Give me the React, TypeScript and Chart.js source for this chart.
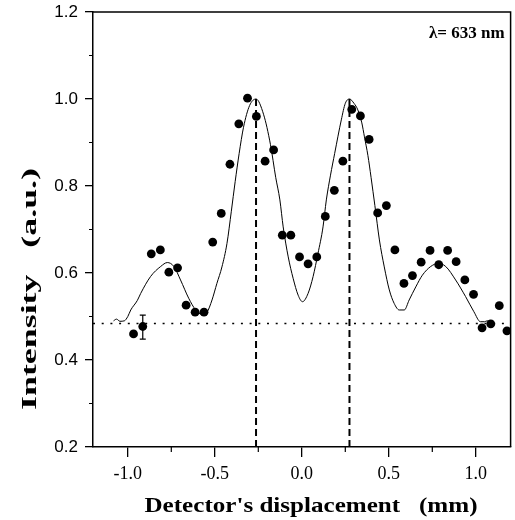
import React, { useEffect, useRef } from 'react';
import { Chart, registerables } from 'chart.js';
Chart.register(...registerables);

// ---- data ----
const measuredX = [
  -0.967, -0.914, -0.865, -0.813, -0.764, -0.714, -0.665, -0.613, -0.562, -0.512,
  -0.463, -0.413, -0.362, -0.312, -0.261, -0.211, -0.162, -0.112, -0.063, -0.013,
  0.036, 0.086, 0.135, 0.187, 0.236, 0.287, 0.337, 0.387, 0.436, 0.486,
  0.535, 0.587, 0.636, 0.686, 0.737, 0.787, 0.838, 0.887, 0.937, 0.987,
  1.036, 1.086, 1.135, 1.179,
];
const measuredY = [
  0.46, 0.477, 0.644, 0.653, 0.602, 0.612, 0.526, 0.51, 0.51, 0.671,
  0.737, 0.85, 0.943, 1.002, 0.96, 0.857, 0.883, 0.687, 0.687, 0.637,
  0.621, 0.637, 0.73, 0.79, 0.857, 0.976, 0.961, 0.907, 0.738, 0.755,
  0.653, 0.576, 0.594, 0.625, 0.652, 0.619, 0.652, 0.626, 0.584, 0.551,
  0.474, 0.483, 0.525, 0.467,
];

const fitX = [
  -1.082, -1.065, -1.045, -1.02, -1.0, -0.983, -0.945, -0.926, -0.869, -0.811,
  -0.773, -0.735, -0.697, -0.65, -0.61, -0.575, -0.545, -0.516, -0.488, -0.459,
  -0.43, -0.405, -0.383, -0.36, -0.335, -0.3, -0.263, -0.22, -0.18, -0.15,
  -0.126, -0.107, -0.078, -0.05, -0.021, 0.004, 0.036, 0.065, 0.093, 0.122,
  0.141, 0.165, 0.189, 0.227, 0.25, 0.274, 0.3, 0.322, 0.345, 0.36,
  0.38, 0.398, 0.42, 0.446, 0.474, 0.503, 0.531, 0.56, 0.589, 0.617,
  0.655, 0.693, 0.741, 0.785, 0.827, 0.884, 0.941, 0.989, 1.027, 1.05,
  1.065, 1.093,
];
const fitY = [
  0.49, 0.494, 0.489, 0.49, 0.5, 0.515, 0.537, 0.553, 0.592, 0.615,
  0.624, 0.615, 0.584, 0.542, 0.515, 0.505, 0.51, 0.538, 0.576, 0.614,
  0.668, 0.742, 0.81, 0.875, 0.935, 0.985, 1.0, 0.965, 0.895, 0.82,
  0.768, 0.706, 0.637, 0.588, 0.549, 0.534, 0.553, 0.592, 0.645, 0.706,
  0.768, 0.825, 0.875, 0.952, 0.99, 1.0, 0.99, 0.975, 0.945, 0.913,
  0.87, 0.82, 0.755, 0.676, 0.614, 0.561, 0.53, 0.515, 0.515, 0.538,
  0.568, 0.595, 0.615, 0.622, 0.615, 0.584, 0.546, 0.511, 0.488, 0.488,
  0.49, 0.488,
];

const baselineLevel = 0.484;
const peakPositions = [-0.263, 0.274];
const peakLevel = 1.0;
const errorBarX = -0.914;
const errorBarLow = 0.448;
const errorBarHigh = 0.503;

const xRange = [-1.2, 1.2];
const yRange = [0.2, 1.2];
const xTickValues = [-1.0, -0.5, 0.0, 0.5, 1.0];
const xMinorTicks = [-0.75, -0.25, 0.25, 0.75];
const yTickValues = [0.2, 0.4, 0.6, 0.8, 1.0, 1.2];
const yMinorTicks = [0.3, 0.5, 0.7, 0.9, 1.1];

const xTitle = "Detector's displacement   (mm)";
const yTitle = 'Intensity   (a.u.)';
const lambdaLabel = 'λ= 633 nm';

function drawStretched(ctx: CanvasRenderingContext2D, text: string, cx: number, cy: number, target: number, rotate: boolean) {
  ctx.save();
  ctx.translate(cx, cy);
  if (rotate) ctx.rotate(-Math.PI / 2);
  const w = ctx.measureText(text).width;
  ctx.scale(target / w, 1);
  ctx.textAlign = 'center';
  ctx.textBaseline = 'alphabetic';
  ctx.fillText(text, 0, 0);
  ctx.restore();
}

const decorPlugin = {
  id: 'decor',
  afterDatasetsDraw(chart: any) {
    const { ctx, scales } = chart;
    const xs = scales.x;
    const ys = scales.y;
    ctx.save();
    ctx.strokeStyle = '#000';
    ctx.fillStyle = '#000';
    // error bar
    const ex = xs.getPixelForValue(errorBarX);
    const e1 = ys.getPixelForValue(errorBarLow);
    const e2 = ys.getPixelForValue(errorBarHigh);
    ctx.lineWidth = 1.2;
    ctx.beginPath();
    ctx.moveTo(ex, e1); ctx.lineTo(ex, e2);
    ctx.moveTo(ex - 3, e1); ctx.lineTo(ex + 3, e1);
    ctx.moveTo(ex - 3, e2); ctx.lineTo(ex + 3, e2);
    ctx.stroke();
    ctx.restore();
  },
  afterDraw(chart: any) {
    const { ctx, chartArea, scales } = chart;
    const xs = scales.x;
    const ys = scales.y;
    ctx.save();
    ctx.strokeStyle = '#000';
    ctx.fillStyle = '#000';
    // top and right frame
    ctx.lineWidth = 1.5;
    ctx.beginPath();
    ctx.moveTo(chartArea.left, chartArea.top);
    ctx.lineTo(chartArea.right, chartArea.top);
    ctx.lineTo(chartArea.right, chartArea.bottom);
    ctx.stroke();
    // minor ticks
    ctx.lineWidth = 1.2;
    ctx.beginPath();
    yMinorTicks.forEach((v) => {
      const p = ys.getPixelForValue(v);
      ctx.moveTo(chartArea.left - 4, p);
      ctx.lineTo(chartArea.left, p);
    });
    xMinorTicks.forEach((v) => {
      const p = xs.getPixelForValue(v);
      ctx.moveTo(p, chartArea.bottom);
      ctx.lineTo(p, chartArea.bottom + 5);
    });
    ctx.stroke();
    // titles
    ctx.font = 'bold 21px "Liberation Serif"';
    drawStretched(ctx, xTitle, 311, 512, 333, false);
    drawStretched(ctx, yTitle, 36, 289, 242, true);
    ctx.font = 'bold 17px "Liberation Serif"';
    ctx.textAlign = 'right';
    ctx.textBaseline = 'alphabetic';
    ctx.fillText(lambdaLabel, chartArea.right - 6, chartArea.top + 26);
    ctx.restore();
  },
};

export default function App() {
  const ref = useRef<HTMLCanvasElement>(null);
  useEffect(() => {
    document.body.style.margin = '0';
    const measured = measuredX.map((x, i) => ({ x, y: measuredY[i] }));
    const fit = fitX.map((x, i) => ({ x, y: fitY[i] }));
    const baseline = xRange.map((x) => ({ x, y: baselineLevel }));
    const peakLines = peakPositions.map((p) => ({
      type: 'scatter' as const,
      data: [{ x: p, y: yRange[0] }, { x: p, y: peakLevel }],
      showLine: true,
      borderColor: '#000',
      borderWidth: 2,
      borderDash: [7, 4],
      pointRadius: 0,
      order: 3,
    }));
    const chart = new Chart(ref.current!, {
      type: 'scatter',
      data: {
        datasets: [
          {
            data: measured,
            pointRadius: 4.4,
            pointBackgroundColor: '#000',
            pointBorderWidth: 0,
            showLine: false,
            order: 0,
          },
          {
            data: fit,
            showLine: true,
            borderColor: '#000',
            borderWidth: 1,
            pointRadius: 0,
            cubicInterpolationMode: 'monotone',
            order: 1,
          } as any,
          {
            data: baseline,
            showLine: true,
            borderColor: '#000',
            borderWidth: 1.6,
            borderDash: [2, 6.7],
            pointRadius: 0,
            order: 2,
          },
          ...peakLines,
        ],
      },
      options: {
        animation: false,
        responsive: true,
        maintainAspectRatio: false,
        layout: { padding: { top: 12, right: 2, left: 0, bottom: 0 } },
        plugins: { legend: { display: false }, tooltip: { enabled: false } },
        scales: {
          x: {
            type: 'linear',
            min: xRange[0],
            max: xRange[1],
            afterBuildTicks: (s: any) => {
              s.ticks = xTickValues.map((v) => ({ value: v }));
            },
            afterFit: (s: any) => {
              s.height = 73;
              s.paddingLeft = 0;
              s.paddingRight = 0;
            },
            ticks: {
              color: '#000',
              font: { family: 'Liberation Serif', size: 18 },
              padding: 6,
              maxRotation: 0,
              autoSkip: false,
              callback: (v: any) => Number(v).toFixed(1),
            },
            grid: { display: true, drawOnChartArea: false, drawTicks: true, tickLength: 10, color: '#000', lineWidth: 1.3 },
            border: { display: true, color: '#000', width: 1.5 },
          },
          y: {
            type: 'linear',
            min: yRange[0],
            max: yRange[1],
            afterBuildTicks: (s: any) => {
              s.ticks = yTickValues.map((v) => ({ value: v }));
            },
            afterFit: (s: any) => {
              s.width = 93;
              s.paddingTop = 0;
              s.paddingBottom = 0;
            },
            ticks: {
              color: '#000',
              font: { family: 'Liberation Sans', size: 17 },
              padding: 7,
              autoSkip: false,
              callback: (v: any) => Number(v).toFixed(1),
            },
            grid: { display: true, drawOnChartArea: false, drawTicks: true, tickLength: 8, color: '#000', lineWidth: 1.3 },
            border: { display: true, color: '#000', width: 1.5 },
          },
        },
      },
      plugins: [decorPlugin],
    });
    return () => chart.destroy();
  }, []);
  return (
    <div style={{ position: 'absolute', left: 0, top: 0, width: 515, height: 520, background: '#fff' }}>
      <canvas ref={ref} />
    </div>
  );
}
